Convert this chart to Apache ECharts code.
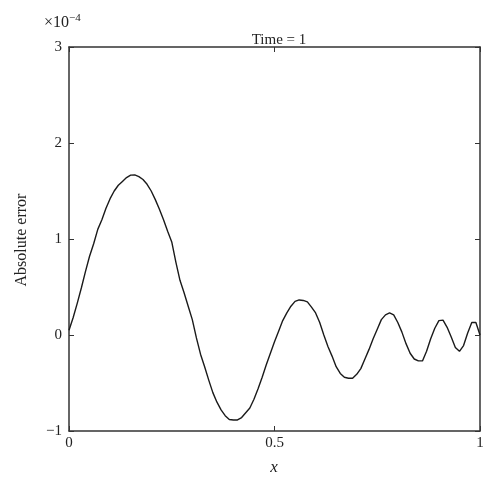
<!DOCTYPE html>
<html>
<head>
<meta charset="utf-8">
<script src="https://cdn.jsdelivr.net/npm/echarts@6/dist/echarts.min.js"></script>
<style>html,body{margin:0;padding:0;background:#fff}#c{width:500px;height:496px}</style>
</head>
<body>
<div id="c"></div>
<script>
const xValues = [0.00,0.01,0.02,0.03,0.04,0.05,0.06,0.07,0.08,0.09,0.10,0.11,0.12,0.13,0.14,0.15,0.16,0.17,0.18,0.19,0.20,0.21,0.22,0.23,0.24,0.25,0.26,0.27,0.28,0.29,0.30,0.31,0.32,0.33,0.34,0.35,0.36,0.37,0.38,0.39,0.40,0.41,0.42,0.43,0.44,0.45,0.46,0.47,0.48,0.49,0.50,0.51,0.52,0.53,0.54,0.55,0.56,0.57,0.58,0.59,0.60,0.61,0.62,0.63,0.64,0.65,0.66,0.67,0.68,0.69,0.70,0.71,0.72,0.73,0.74,0.75,0.76,0.77,0.78,0.79,0.80,0.81,0.82,0.83,0.84,0.85,0.86,0.87,0.88,0.89,0.90,0.91,0.92,0.93,0.94,0.95,0.96,0.97,0.98,0.99,1.00];
// absolute error in units of 1e-4
const errValues = [0.05,0.18,0.33,0.49,0.66,0.82,0.95,1.10,1.20,1.32,1.42,1.50,1.56,1.60,1.64,1.665,1.667,1.65,1.62,1.57,1.50,1.41,1.31,1.20,1.08,0.97,0.76,0.57,0.44,0.30,0.16,-0.03,-0.20,-0.33,-0.47,-0.60,-0.70,-0.78,-0.84,-0.88,-0.885,-0.885,-0.86,-0.81,-0.76,-0.67,-0.56,-0.44,-0.31,-0.19,-0.07,0.04,0.15,0.23,0.30,0.35,0.365,0.36,0.345,0.29,0.23,0.13,0.00,-0.12,-0.22,-0.33,-0.40,-0.44,-0.45,-0.45,-0.41,-0.35,-0.25,-0.15,-0.04,0.06,0.16,0.21,0.23,0.21,0.13,0.03,-0.09,-0.19,-0.25,-0.27,-0.27,-0.17,-0.04,0.07,0.15,0.155,0.08,-0.02,-0.13,-0.17,-0.11,0.02,0.13,0.13,0.00];
const xTicks = [0, 0.5, 1];
const yTicks = [-1, 0, 1, 2, 3];
const titleText = 'Time = 1';
const yLabel = 'Absolute error';
const xLabel = 'x';

const font = '"Liberation Serif", "DejaVu Serif", serif';
const ink = '#222';
const fmt = v => String(v).replace('-', '\u2212');

const chart = echarts.init(document.getElementById('c'), null, {renderer: 'canvas'});
const axisCommon = () => ({
  axisLine: {show: true, onZero: false, lineStyle: {color: '#333', width: 1.5}},
  axisTick: {show: true, inside: true, length: 5, lineStyle: {color: '#333', width: 1}},
  splitLine: {show: false}
});
chart.setOption({
  animation: false,
  backgroundColor: '#fff',
  title: {
    text: titleText, left: 274, top: 28, textAlign: 'center',
    textStyle: {fontFamily: font, fontSize: 15, fontWeight: 'normal', color: ink}
  },
  grid: {left: 69, right: 20, top: 47, bottom: 65},
  xAxis: [
    Object.assign({type: 'value', min: xTicks[0], max: xTicks[xTicks.length-1], interval: 0.5, position: 'bottom',
      axisLabel: {fontFamily: font, fontSize: 15, color: ink, margin: 5, formatter: fmt}}, axisCommon()),
    Object.assign({type: 'value', min: xTicks[0], max: xTicks[xTicks.length-1], interval: 0.5, position: 'top',
      axisLabel: {show: false}}, axisCommon())
  ],
  yAxis: [
    Object.assign({type: 'value', min: yTicks[0], max: yTicks[yTicks.length-1], interval: 1, position: 'left',
      axisLabel: {fontFamily: font, fontSize: 15, color: ink, margin: 7, formatter: fmt}}, axisCommon()),
    Object.assign({type: 'value', min: yTicks[0], max: yTicks[yTicks.length-1], interval: 1, position: 'right',
      axisLabel: {show: false}}, axisCommon())
  ],
  graphic: [
    {type: 'text', left: 44, top: 13, style: {
      text: '{a|\u00d710}{b|\u22124}', rich: {
        a: {fontFamily: font, fontSize: 16, fill: ink},
        b: {fontFamily: font, fontSize: 11, fill: ink, verticalAlign: 'top', padding: [0,0,9,0]}
      }}},
    {type: 'text', x: 22, y: 240, rotation: Math.PI/2, style: {
      text: yLabel, font: '16px ' + font, fill: ink, align: 'center', verticalAlign: 'middle'}},
    {type: 'text', x: 274, y: 468, style: {
      text: xLabel, font: 'italic 17px ' + font, fill: ink, align: 'center', verticalAlign: 'middle'}}
  ],
  series: [{
    type: 'line', xAxisIndex: 0, yAxisIndex: 0,
    data: xValues.map((x, i) => [x, errValues[i]]),
    showSymbol: false, symbol: 'none',
    lineStyle: {color: '#1a1a1a', width: 1.4},
    clip: true
  }]
});
</script>
</body>
</html>
